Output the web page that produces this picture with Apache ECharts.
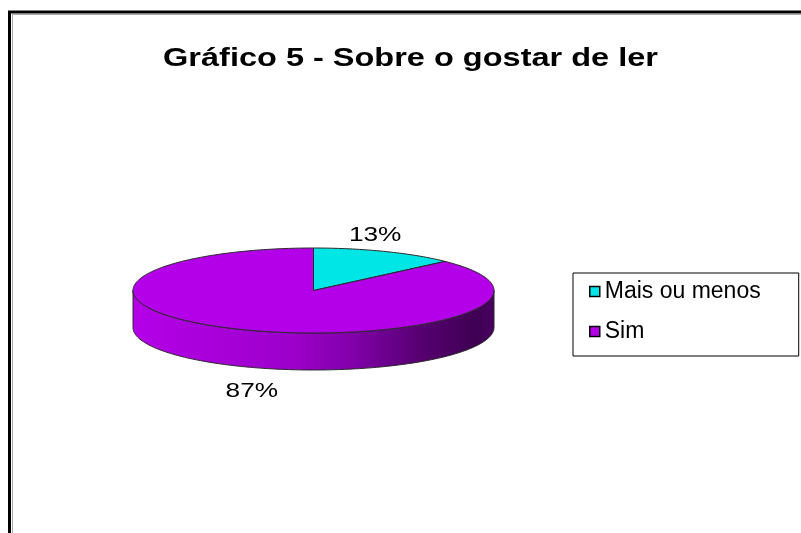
<!DOCTYPE html>
<html>
<head>
<meta charset="utf-8">
<script src="https://cdn.jsdelivr.net/npm/echarts@6/dist/echarts.min.js"></script>
<style>
  html, body { margin: 0; padding: 0; background: #fff; }
  #chart { width: 801px; height: 533px; }
</style>
</head>
<body>
<div id="chart"></div>
<script>
// ---- data ----
const categories = ['Mais ou menos', 'Sim'];
const values = [13, 87];
const percentLabels = ['13%', '87%'];
const colors = ['#00E6E6', '#B400E8'];
const titleText = 'Gráfico 5 - Sobre o gostar de ler';

// ---- layout ----
const PIE = { cx: 313.5, cy: 290.5, rx: 180.5, ry: 42.5, depth: 37 };
const TEXT_SCALE = 1.25;

const chart = echarts.init(document.getElementById('chart'), null, { renderer: 'canvas' });

const wallGradient = new echarts.graphic.LinearGradient(
  PIE.cx - PIE.rx, 0, PIE.cx + PIE.rx, 0,
  [
    { offset: 0, color: '#B400E8' },
    { offset: 0.45, color: '#9C00CA' },
    { offset: 0.62, color: '#7E00A6' },
    { offset: 0.8, color: '#560070' },
    { offset: 0.95, color: '#3E0052' },
    { offset: 1, color: '#480060' }
  ], true);

function arcPoints(a0, a1, dy) {
  const pts = [];
  const steps = Math.max(8, Math.ceil((a1 - a0) / 0.02));
  for (let k = 0; k <= steps; k++) {
    const t = a0 + (a1 - a0) * k / steps;
    pts.push([PIE.cx + PIE.rx * Math.cos(t), PIE.cy + PIE.ry * Math.sin(t) + dy]);
  }
  return pts;
}

function makeRender(i) {
  return function (params, api) {
    const total = values.reduce((a, b) => a + b, 0);
    let before = 0;
    for (let j = 0; j < i; j++) before += values[j];
    const v = api.value(0);
    const a0 = -Math.PI / 2 + 2 * Math.PI * before / total;
    const a1 = a0 + 2 * Math.PI * v / total;
    const children = [];
    // side wall (front half only)
    [0, 2 * Math.PI].forEach(function (off) {
      const s = Math.max(a0, off), e = Math.min(a1, off + Math.PI);
      if (e > s) {
        const upper = arcPoints(s, e, 0);
        const lower = arcPoints(s, e, PIE.depth).reverse();
        children.push({
          type: 'polygon',
          shape: { points: upper.concat(lower) },
          style: { fill: wallGradient, stroke: '#2a2a2a', lineWidth: 1 },
          z2: 1
        });
      }
    });
    // top face
    const top = [[PIE.cx, PIE.cy]].concat(arcPoints(a0, a1, 0));
    children.push({
      type: 'polygon',
      shape: { points: top },
      style: { fill: colors[i], stroke: '#2a2a2a', lineWidth: 1 },
      z2: 5
    });
    // label
    const mid = (a0 + a1) / 2;
    const sy = Math.sin(mid);
    const lx = PIE.cx + PIE.rx * 0.86 * Math.cos(mid);
    const ly = PIE.cy + (PIE.ry + 18) * sy + (sy > 0 ? PIE.depth + 8 : 0);
    children.push({
      type: 'text',
      x: lx, y: ly, scaleX: TEXT_SCALE,
      style: {
        text: percentLabels[i],
        font: '21px "Liberation Sans", Arial, sans-serif',
        fill: '#000', align: 'center', verticalAlign: 'middle'
      },
      z2: 10
    });
    return { type: 'group', children: children };
  };
}

const option = {
  animation: false,
  backgroundColor: '#fff',
  legend: {
    orient: 'vertical',
    left: 573, top: 273,
    data: categories,
    icon: 'rect',
    itemWidth: 10, itemHeight: 10,
    itemGap: 17,
    padding: [7, 38, 13, 16],
    borderColor: '#000', borderWidth: 1,
    textStyle: { fontFamily: '"Liberation Sans", Arial, sans-serif', fontSize: 23, color: '#000' },
    itemStyle: { borderColor: '#000', borderWidth: 1.5 }
  },
  graphic: [
    { type: 'line', shape: { x1: 9.5, y1: 11, x2: 9.5, y2: 540 }, style: { stroke: '#000', lineWidth: 3 } },
    { type: 'line', shape: { x1: 8, y1: 12, x2: 810, y2: 12 }, style: { stroke: '#000', lineWidth: 3 } },
    { type: 'line', shape: { x1: 12.5, y1: 14, x2: 12.5, y2: 540 }, style: { stroke: '#aaa', lineWidth: 1 } },
    { type: 'line', shape: { x1: 12, y1: 14.5, x2: 810, y2: 14.5 }, style: { stroke: '#aaa', lineWidth: 1 } },
    {
      type: 'text', x: 410.5, y: 59, scaleX: TEXT_SCALE,
      style: {
        text: titleText,
        font: 'bold 26px "Liberation Sans", Arial, sans-serif',
        fill: '#000', align: 'center', verticalAlign: 'middle'
      }
    }
  ],
  series: categories.map(function (name, i) {
    return {
      type: 'custom',
      name: name,
      coordinateSystem: 'none',
      itemStyle: { color: colors[i] },
      data: [[values[i]]],
      renderItem: makeRender(i),
      z: 2
    };
  })
};

chart.setOption(option);
</script>
</body>
</html>
